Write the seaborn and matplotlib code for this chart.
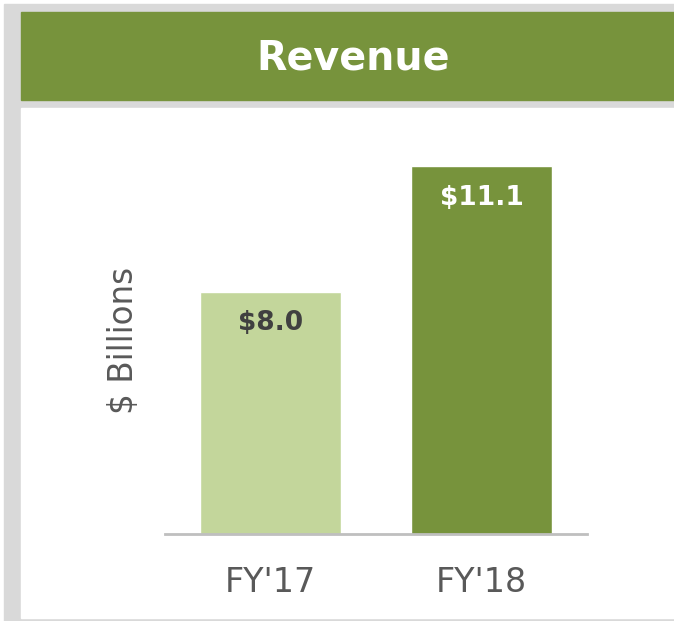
import matplotlib
matplotlib.use("Agg")
import matplotlib.pyplot as plt
from matplotlib.patches import Rectangle
import seaborn as sns
import pandas as pd

# chart data
years = ["FY'17", "FY'18"]
revenue = [8.0, 11.1]
bar_labels = ["$8.0", "$11.1"]

dark_green = "#77933C"
light_green = "#C3D69B"
label_colors = ["#404040", "white"]

sns.set_theme(style="white")
plt.rcParams['font.family'] = ['DejaVu Sans']

W, H = 674, 621
fig = plt.figure(figsize=(W / 100, H / 100), dpi=100)
fig.patch.set_facecolor("white")


def px_rect(x0, y0, x1, y1, color):
    # rectangle in pixel coords measured from top-left
    fig.patches.append(Rectangle((x0 / W, 1 - y1 / H), (x1 - x0) / W, (y1 - y0) / H,
                                 transform=fig.transFigure, color=color, zorder=-1))


# grey frame, title banner and white panel
px_rect(4, 4, W, H, "#D9D9D9")
px_rect(21, 12, W, 100, dark_green)
px_rect(21, 108, W, 618, "white")
fig.text(353 / W, 1 - 58 / H, "Revenue", color="white", fontsize=28.5,
         fontweight="bold", ha="center", va="center")

ax = fig.add_axes([165 / W, 1 - 534 / H, 422 / W, 404 / H])
ax.patch.set_alpha(0)

df = pd.DataFrame({"year": years, "revenue": revenue})
sns.barplot(data=df, x="year", y="revenue", hue="year",
            palette=[light_green, dark_green], width=0.668,
            legend=False, saturation=1, ax=ax)

ax.set_xlim(-0.5, 1.5)
ax.set_ylim(2, 12)

for i, (v, lab) in enumerate(zip(revenue, bar_labels)):
    ax.annotate(lab, (i, v), xytext=(0, -22.5), textcoords="offset points",
                ha="center", va="center", fontsize=19, fontweight="bold",
                color=label_colors[i])

for s in ["top", "right", "left"]:
    ax.spines[s].set_visible(False)
ax.spines["bottom"].set_color("#BFBFBF")
ax.spines["bottom"].set_linewidth(2)
ax.set_yticks([])
ax.set_xlabel("")
ax.set_ylabel("")
ax.tick_params(axis="x", length=0, pad=23, labelsize=24, labelcolor="#595959")

fig.text(124 / W, 1 - 340 / H, "$ Billions", rotation=90, fontsize=23.5,
         color="#595959", ha="center", va="center")

fig.savefig("out.png", dpi=100)
